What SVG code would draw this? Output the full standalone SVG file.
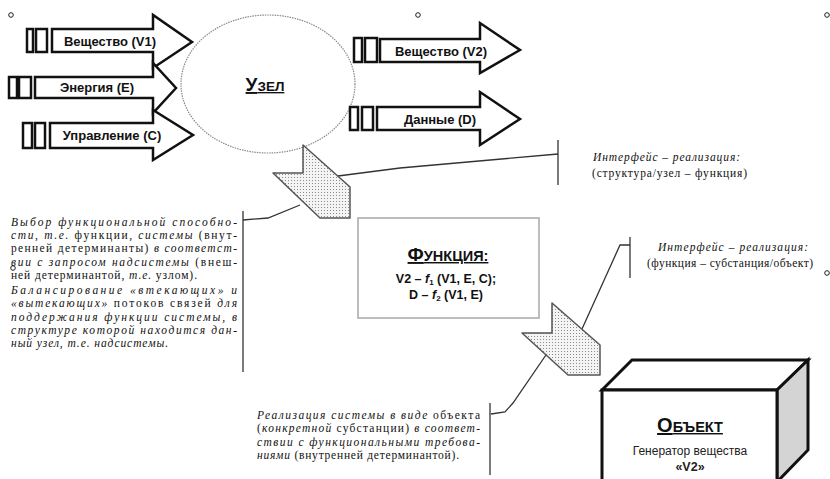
<svg xmlns="http://www.w3.org/2000/svg" width="830" height="479" viewBox="0 0 830 479">
  <style>
    .flow { fill: #fff; stroke: #111; stroke-width: 2.5; stroke-linejoin: miter; }
    .flabel { font-family: "Liberation Sans", Arial, sans-serif; font-weight: bold; font-size: 13px; fill: #111; text-anchor: middle; }
    .note { font-family: "Liberation Serif", "Times New Roman", serif; font-size: 11.5px; fill: #111; font-style: italic; }
    .up { font-style: normal; }
    .iface { font-family: "Liberation Serif", "Times New Roman", serif; font-size: 11.5px; fill: #111; }
    .conn { fill: none; stroke: #333; stroke-width: 1.3; }
    .dot { fill: #fff; stroke: #222; stroke-width: 1; }
    .shade { fill: url(#dots); stroke: #555; stroke-width: 1.5; stroke-linejoin: round; }
    .title { font-family: "Liberation Sans", Arial, sans-serif; font-weight: bold; fill: #111; text-anchor: middle; text-decoration: underline; }
    .eq { font-family: "Liberation Sans", Arial, sans-serif; font-weight: bold; font-size: 12.5px; fill: #111; text-anchor: middle; }
  </style>
  <defs>
    <pattern id="dots" width="3" height="3" patternUnits="userSpaceOnUse">
      <rect width="3" height="3" fill="#f4f4f4"/>
      <rect width="1" height="1" fill="#8a8a8a"/>
    </pattern>
  </defs>

  <rect width="830" height="479" fill="#fff"/>

  <!-- corner marks -->
  <g id="marks">
    <circle class="dot" cx="11" cy="15" r="2.3"/>
    <circle class="dot" cx="418" cy="15" r="2.3"/>
    <circle class="dot" cx="827" cy="15" r="2.3"/>
    <circle class="dot" cx="13" cy="268" r="2.3"/>
    <circle class="dot" cx="827" cy="273" r="2.3"/>
  </g>

  <!-- node ellipse -->
  <g id="uzel">
    <ellipse cx="268" cy="84" rx="87" ry="69" fill="#fff" stroke="#8a8a8a" stroke-width="1.2" stroke-dasharray="1.5 1"/>
    <text class="title" x="265" y="91"><tspan font-size="19">У</tspan><tspan font-size="13.5">ЗЕЛ</tspan></text>
  </g>

  <!-- input flows -->
  <g id="in-v1">
    <rect class="flow" x="27" y="29" width="6" height="23"/>
    <rect class="flow" x="36" y="29" width="11" height="23"/>
    <path class="flow" d="M52,29 H153 V15 L192,42 L153,68 V52 H52 Z"/>
    <text class="flabel" x="110" y="46">Вещество (V1)</text>
  </g>
  <g id="in-e">
    <rect class="flow" x="9" y="77" width="8" height="21"/>
    <rect class="flow" x="19" y="77" width="12" height="21"/>
    <path class="flow" d="M35,77 H153 V63 L176,88 L153,113 V98 H35 Z"/>
    <text class="flabel" x="97" y="92">Энергия (E)</text>
  </g>
  <g id="in-c">
    <rect class="flow" x="23" y="123" width="9" height="25"/>
    <rect class="flow" x="35" y="123" width="10" height="25"/>
    <path class="flow" d="M50,123 H153 V110 L193,135 L153,160 V148 H50 Z"/>
    <text class="flabel" x="112" y="140">Управление (С)</text>
  </g>

  <!-- output flows -->
  <g id="out-v2">
    <rect class="flow" x="354" y="38" width="8" height="24"/>
    <rect class="flow" x="365" y="38" width="12" height="24"/>
    <path class="flow" d="M380,39 H480 V23 L520,50 L480,73 V62 H380 Z"/>
    <text class="flabel" x="441" y="56">Вещество (V2)</text>
  </g>
  <g id="out-d">
    <rect class="flow" x="350" y="107" width="8" height="23"/>
    <rect class="flow" x="362" y="107" width="11" height="23"/>
    <path class="flow" d="M377,107 H480 V92 L520,119 L480,145 V130 H377 Z"/>
    <text class="flabel" x="440" y="124">Данные (D)</text>
  </g>

  <!-- connectors -->
  <g id="connectors">
    <path class="conn" d="M338,176 L400,168 L558,154"/>
    <path class="conn" d="M558,140 V185"/>
    <path class="conn" d="M300,205 L268,218 L243,220"/>
    <path class="conn" d="M243,211 V372"/>
    <path class="conn" d="M582,329 L620,245 L630,245"/>
    <path class="conn" d="M630,237 V278"/>
    <path class="conn" d="M548,352 L513,403 L505,412 L491,414"/>
    <path class="conn" d="M490,403 V475"/>
  </g>

  <!-- interface arrows -->
  <g id="iface-1">
    <path class="shade" d="M303,145 L350,187 L350,218 L320,218 L273,173 L303,173 Z"/>
  </g>
  <g id="iface-2">
    <path class="shade" d="M552,303 L600,345 L600,375 L568,375 L522,333 L552,333 Z"/>
  </g>

  <!-- function box -->
  <g id="funkciya">
    <rect x="358" y="218" width="181" height="100" fill="#fff" stroke="#a8a8a8" stroke-width="1.5"/>
    <text class="title" x="448" y="261"><tspan font-size="19">Ф</tspan><tspan font-size="14.5">УНКЦИЯ:</tspan></text>
    <text class="eq" x="446" y="283">V2 – <tspan font-style="italic">f</tspan><tspan font-size="8" dy="2">1</tspan><tspan dy="-2"> (V1, E, C);</tspan></text>
    <text class="eq" x="446" y="299">D – <tspan font-style="italic">f</tspan><tspan font-size="8" dy="2">2</tspan><tspan dy="-2"> (V1, E)</tspan></text>
  </g>

  <!-- object box -->
  <g id="obekt">
    <polygon points="602,390 632,360 808,360 777,390" fill="#fff" stroke="#111" stroke-width="3" stroke-linejoin="miter"/>
    <polygon points="777,390 808,360 808,450 777,482" fill="#d4d4d4" stroke="#111" stroke-width="3"/>
    <rect x="602" y="390" width="175" height="100" fill="#fff" stroke="#111" stroke-width="3"/>
    <text class="title" x="690" y="432"><tspan font-size="20">О</tspan><tspan font-size="14.5">БЪЕКТ</tspan></text>
    <text x="690" y="455" font-family="'Liberation Sans', Arial, sans-serif" font-size="12" fill="#222" text-anchor="middle">Генератор вещества</text>
    <text x="690" y="471" font-family="'Liberation Sans', Arial, sans-serif" font-size="12.5" font-weight="bold" fill="#222" text-anchor="middle">«V2»</text>
  </g>

  <!-- interface labels -->
  <g id="label-iface-1">
    <text class="iface" x="593" y="161" font-style="italic" textLength="147" lengthAdjust="spacing">Интерфейс – реализация:</text>
    <text class="iface" x="592" y="177" textLength="155" lengthAdjust="spacing">(структура/узел – функция)</text>
  </g>
  <g id="label-iface-2">
    <text class="iface" x="658" y="251" font-style="italic" textLength="150" lengthAdjust="spacing">Интерфейс – реализация:</text>
    <text class="iface" x="647" y="267" textLength="166" lengthAdjust="spacing">(функция – субстанция/объект)</text>
  </g>

  <!-- description of selection -->
  <g id="note-select">
    <text class="note" x="11" y="226" textLength="226" lengthAdjust="spacing">Выбор функциональной способно-</text>
    <text class="note" x="11" y="239" textLength="226" lengthAdjust="spacing">сти, т.е. <tspan class="up">функции,</tspan> системы <tspan class="up">(внут-</tspan></text>
    <text class="note" x="11" y="252" textLength="226" lengthAdjust="spacing"><tspan class="up">ренней детерминанты)</tspan> в соответст-</text>
    <text class="note" x="11" y="266" textLength="226" lengthAdjust="spacing">вии с запросом надсистемы <tspan class="up">(внеш-</tspan></text>
    <text class="note" x="11" y="279" textLength="186" lengthAdjust="spacing"><tspan class="up">ней детерминантой,</tspan> т.е. <tspan class="up">узлом).</tspan></text>
    <text class="note" x="11" y="294" textLength="226" lengthAdjust="spacing">Балансирование «втекающих» и</text>
    <text class="note" x="11" y="307" textLength="226" lengthAdjust="spacing">«вытекающих» <tspan class="up">потоков связей</tspan> для</text>
    <text class="note" x="11" y="321" textLength="226" lengthAdjust="spacing">поддержания функции системы, в</text>
    <text class="note" x="11" y="334" textLength="226" lengthAdjust="spacing">структуре которой находится дан-</text>
    <text class="note" x="11" y="347" textLength="157" lengthAdjust="spacing">ный узел, т.е. надсистемы.</text>
  </g>

  <!-- description of realisation -->
  <g id="note-realize">
    <text class="note" x="257" y="419" textLength="223" lengthAdjust="spacing">Реализация системы в виде <tspan class="up">объекта</tspan></text>
    <text class="note" x="257" y="432" textLength="223" lengthAdjust="spacing"><tspan class="up">(</tspan>конкретной <tspan class="up">субстанции)</tspan> в соответ-</text>
    <text class="note" x="257" y="446" textLength="223" lengthAdjust="spacing">ствии с функциональными требова-</text>
    <text class="note" x="257" y="459" textLength="202" lengthAdjust="spacing">ниями <tspan class="up">(внутренней детерминантой).</tspan></text>
  </g>
</svg>
